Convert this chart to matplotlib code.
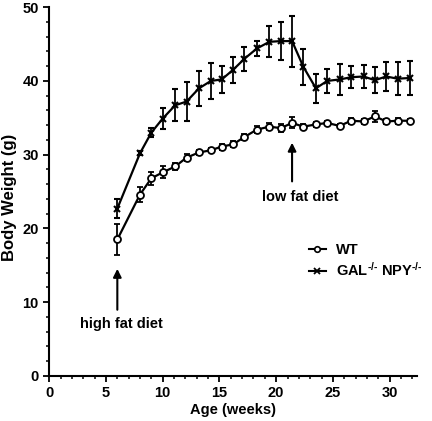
import numpy as np
import matplotlib.pyplot as plt
from matplotlib.lines import Line2D

# data
age = [6.0, 8.0, 9.0, 10.0, 11.1, 12.1, 13.2, 14.25, 15.2, 16.2, 17.2, 18.3, 19.4,
       20.4, 21.4, 22.4, 23.5, 24.5, 25.6, 26.6, 27.7, 28.7, 29.7, 30.7, 31.8]
wt = [18.5, 24.6, 26.8, 27.6, 28.4, 29.6, 30.3, 30.6, 31.1, 31.4, 32.4, 33.4, 33.8,
      33.6, 34.3, 33.8, 34.1, 34.3, 33.9, 34.6, 34.5, 35.2, 34.5, 34.6, 34.6]
wt_err = [2.1, 1.0, 0.9, 0.8, 0.5, 0.5, 0.4, 0.3, 0.4, 0.4, 0.4, 0.5, 0.5,
          0.5, 0.75, 0.3, 0.3, 0.3, 0.3, 0.4, 0.4, 0.75, 0.4, 0.4, 0.3]
gal = [22.7, 30.2, 33.0, 34.9, 36.7, 37.2, 39.0, 40.0, 40.2, 41.5, 43.0, 44.4, 45.3,
       45.4, 45.4, 41.9, 39.0, 40.0, 40.2, 40.5, 40.6, 40.1, 40.6, 40.3, 40.4]
gal_err = [1.35, 0.3, 0.6, 1.4, 2.2, 2.6, 2.4, 2.4, 1.85, 1.75, 1.6, 1.0, 2.1,
           2.6, 3.45, 2.4, 2.0, 1.6, 2.1, 1.5, 1.6, 1.75, 2.0, 2.25, 2.25]

plt.rcParams['font.family'] = ['Liberation Sans', 'DejaVu Sans']
plt.rcParams['font.weight'] = 'bold'
plt.rcParams['mathtext.fontset'] = 'custom'
plt.rcParams['mathtext.rm'] = 'Liberation Sans:bold'
plt.rcParams['mathtext.bf'] = 'Liberation Sans:bold'
plt.rcParams['mathtext.default'] = 'rm'

fig = plt.figure(figsize=(4.32, 4.21), dpi=100)
ax = fig.add_axes([0.114, 0.107, 0.851, 0.876])

ax.errorbar(age, wt, yerr=wt_err, color='black', lw=1.6, marker='o', ms=5,
            mfc='white', mec='black', mew=1.3, capsize=2.5, elinewidth=1.3,
            capthick=1.3, zorder=3)
ax.errorbar(age, gal, yerr=gal_err, color='black', lw=1.6, marker='x', ms=5,
            mew=1.5, capsize=2.5, elinewidth=1.3, capthick=1.3, zorder=3)

ax.set_xlim(0, 32.4)
ax.set_ylim(0, 50)
ax.set_xticks([0, 5, 10, 15, 20, 25, 30])
ax.set_xticks(np.arange(0, 33, 1), minor=True)
ax.set_yticks([0, 10, 20, 30, 40, 50])
ax.set_yticks(np.arange(0, 51, 2), minor=True)
ax.tick_params(which='major', length=4, width=1.3, labelsize=10.5, direction='out')
ax.tick_params(which='minor', length=2.5, width=1.1, direction='out')
for s in ['top', 'right']:
    ax.spines[s].set_visible(False)
for s in ['left', 'bottom']:
    ax.spines[s].set_linewidth(1.5)

ax.set_xlabel('Age (weeks)', fontsize=10.5, fontweight='bold', labelpad=2)
ax.set_ylabel('Body Weight (g)', fontsize=12, fontweight='bold')
ax.yaxis.set_label_coords(-0.088, 0.485)

ax.annotate('', xy=(6.0, 14.9), xytext=(6.0, 8.6),
            arrowprops=dict(arrowstyle='-|>', color='black', lw=1.5, mutation_scale=12))
ax.text(6.4, 7.0, 'high fat diet', ha='center', va='center', fontsize=10.5, fontweight='bold')
ax.annotate('', xy=(21.4, 32.0), xytext=(21.4, 26.0),
            arrowprops=dict(arrowstyle='-|>', color='black', lw=1.5, mutation_scale=12))
ax.text(22.1, 24.2, 'low fat diet', ha='center', va='center', fontsize=10.5, fontweight='bold')

# legend without the error bar glyphs
h_wt = Line2D([], [], color='black', lw=1.5, marker='o', ms=4, mfc='white', mew=1.2)
h_gal = Line2D([], [], color='black', lw=1.5, marker='x', ms=4, mew=1.3)
leg = ax.legend([h_wt, h_gal], ['WT', 'GAL$^{\\text{-/-}}$ NPY$^{\\text{-/-}}$'],
                loc='upper left', bbox_to_anchor=(0.69, 0.375), frameon=False,
                fontsize=10.5, handlelength=1.2, handletextpad=0.7, labelspacing=0.25,
                borderaxespad=0)

fig.savefig('out.png', dpi=100)
